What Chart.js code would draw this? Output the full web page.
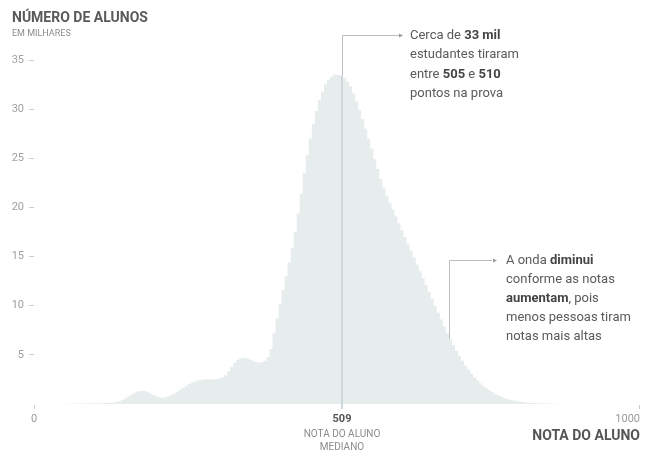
<!DOCTYPE html>
<html>
<head>
<meta charset="utf-8">
<script src="https://cdn.jsdelivr.net/npm/chart.js@4/dist/chart.umd.min.js"></script>
<style>
  body { margin: 0; background: #fff; }
  #wrap { width: 648px; height: 457px; position: relative; }
</style>
</head>
<body>
<div id="wrap"><canvas id="histChart"></canvas></div>
<script>
// bins of 5 points, 0 .. 995 (number of students, in thousands)
const binWidth = 5;
const counts = [
  0, 0, 0, 0, 0, 0, 0, 0, 0, 0,
  0.02, 0.02, 0.03, 0.03, 0.04, 0.04, 0.05, 0.05, 0.06, 0.06,
  0.07, 0.08, 0.09, 0.10, 0.11, 0.13, 0.16, 0.20, 0.28, 0.42,
  0.6, 0.8, 1.0, 1.15, 1.28, 1.35, 1.32, 1.2, 1.05, 0.9,
  0.76, 0.66, 0.62, 0.66, 0.76, 0.9, 1.05, 1.25, 1.45, 1.65,
  1.85, 2.05, 2.2, 2.3, 2.4, 2.45, 2.5, 2.5, 2.5, 2.5,
  2.52, 2.6, 2.72, 2.92, 3.3, 3.75, 4.2, 4.5, 4.65, 4.7,
  4.65, 4.5, 4.35, 4.25, 4.2, 4.25, 4.4, 4.8, 5.6, 7.2,
  8.7, 10.2, 11.6, 13.0, 14.4, 15.9, 17.5, 19.4, 21.4, 23.5,
  25.3, 27.0, 28.5, 29.8, 30.9, 31.8, 32.5, 33.0, 33.3, 33.5,
  33.5, 33.4, 33.2, 32.8, 32.3, 31.6, 30.8, 29.9, 29.0, 28.0,
  27.0, 26.0, 24.9, 23.9, 22.9, 22.0, 21.2, 20.5, 19.8, 19.1,
  18.4, 17.7, 17.0, 16.3, 15.6, 14.9, 14.2, 13.5, 12.8, 12.1,
  11.4, 10.7, 10.0, 9.3, 8.6, 7.9, 7.2, 6.6, 6.0, 5.4,
  4.9, 4.4, 3.9, 3.5, 3.1, 2.7, 2.4, 2.1, 1.8, 1.6,
  1.4, 1.2, 1.0, 0.85, 0.72, 0.6, 0.5, 0.42, 0.35, 0.29,
  0.24, 0.2, 0.16, 0.13, 0.11, 0.09, 0.07, 0.06, 0.05, 0.04,
  0.035, 0.03, 0.025, 0.02, 0.018, 0.015, 0.012, 0.01, 0.008, 0.006,
  0.005, 0.004, 0.003, 0.002, 0.001, 0, 0, 0, 0, 0,
  0, 0, 0, 0, 0, 0, 0, 0, 0, 0
];
const yTickValues = [5, 10, 15, 20, 25, 30, 35];
const xTickValues = [0, 509, 1000];
const medianScore = 509;
const peakBinIndex = 101; // 505-510

const FONT = 'Roboto, "Liberation Sans", sans-serif';

const points = counts.map((c, i) => ({ x: i * binWidth + binWidth / 2, y: c }));

function drawRich(ctx, parts, x, y) {
  let cx = x;
  parts.forEach(p => {
    ctx.font = (p[1] ? 'bold ' : '') + '13px ' + FONT;
    ctx.fillStyle = p[1] ? '#444' : '#5a5a5a';
    ctx.fillText(p[0], cx, y);
    cx += ctx.measureText(p[0]).width;
  });
}

function arrowHead(ctx, x, y) {
  ctx.beginPath();
  ctx.moveTo(x + 3, y);
  ctx.lineTo(x - 1, y - 2);
  ctx.lineTo(x - 1, y + 2);
  ctx.closePath();
  ctx.fill();
}

const decorPlugin = {
  id: 'decor',
  afterDatasetsDraw(chart) {
    const ctx = chart.ctx;
    const xs = chart.scales.x, ys = chart.scales.y;
    const base = chart.chartArea.bottom;
    ctx.save();

    // x axis tick marks
    ctx.strokeStyle = '#cccccc';
    ctx.lineWidth = 1;
    xTickValues.forEach(v => {
      const px = Math.round(xs.getPixelForValue(v)) + 0.5;
      ctx.beginPath();
      ctx.moveTo(px, base + 1);
      ctx.lineTo(px, base + 5);
      ctx.stroke();
    });

    // median line
    const mx = Math.round(xs.getPixelForValue(medianScore));
    const barTop = ys.getPixelForValue(counts[peakBinIndex]);
    const lineTop = Math.round(ys.getPixelForValue(37.5)) + 0.5;
    ctx.strokeStyle = '#cdd7d7';
    ctx.lineWidth = 2;
    ctx.beginPath();
    ctx.moveTo(mx, base + 5);
    ctx.lineTo(mx, barTop);
    ctx.stroke();
    ctx.strokeStyle = '#b9bdbd';
    ctx.lineWidth = 1;
    ctx.beginPath();
    ctx.moveTo(mx + 0.5, barTop);
    ctx.lineTo(mx + 0.5, lineTop);
    ctx.lineTo(399, lineTop);
    ctx.stroke();
    ctx.fillStyle = '#9a9a9a';
    arrowHead(ctx, 400, lineTop);

    // second annotation line
    const ax = Math.round(xs.getPixelForValue(686)) + 0.5;
    const ay1 = Math.round(ys.getPixelForValue(6.6));
    const ay2 = Math.round(ys.getPixelForValue(14.7)) + 0.5;
    ctx.strokeStyle = '#b9bdbd';
    ctx.beginPath();
    ctx.moveTo(ax, ay1);
    ctx.lineTo(ax, ay2);
    ctx.lineTo(492, ay2);
    ctx.stroke();
    arrowHead(ctx, 494, ay2);

    // annotation texts
    ctx.textAlign = 'left';
    ctx.textBaseline = 'middle';
    drawRich(ctx, [['Cerca de ', false], ['33 mil', true]], 410, lineTop);
    drawRich(ctx, [['estudantes tiraram', false]], 410, lineTop + 19.5);
    drawRich(ctx, [['entre ', false], ['505', true], [' e ', false], ['510', true]], 410, lineTop + 39);
    drawRich(ctx, [['pontos na prova', false]], 410, lineTop + 58.5);

    const l2 = [
      [['A onda ', false], ['diminui', true]],
      [['conforme as notas', false]],
      [['aumentam', true], [', pois', false]],
      [['menos pessoas tiram', false]],
      [['notas mais altas', false]]
    ];
    l2.forEach((parts, i) => drawRich(ctx, parts, 506, ay2 + i * 19));

    // titles
    ctx.fillStyle = '#595959';
    ctx.font = 'bold 14px ' + FONT;
    ctx.fillText('NÚMERO DE ALUNOS', 12, 18);
    ctx.fillStyle = '#8c8c8c';
    ctx.font = '9px ' + FONT;
    ctx.fillText('EM MILHARES', 12, 34);

    // x labels
    ctx.textAlign = 'center';
    ctx.font = '11px ' + FONT;
    ctx.fillStyle = '#9a9a9a';
    ctx.fillText('0', xs.getPixelForValue(0), base + 15);
    ctx.textAlign = 'right';
    ctx.fillText('1000', xs.getPixelForValue(1000) + 1, base + 15);
    ctx.textAlign = 'center';
    ctx.fillStyle = '#555';
    ctx.font = 'bold 11px ' + FONT;
    ctx.fillText(String(medianScore), mx, base + 15);
    ctx.fillStyle = '#8c8c8c';
    ctx.font = '10px ' + FONT;
    ctx.fillText('NOTA DO ALUNO', mx, base + 30);
    ctx.fillText('MEDIANO', mx, base + 43);
    ctx.textAlign = 'right';
    ctx.fillStyle = '#555';
    ctx.font = 'bold 14px ' + FONT;
    ctx.fillText('NOTA DO ALUNO', 640, base + 32);

    ctx.restore();
  }
};

const ctx = document.getElementById('histChart').getContext('2d');
const chart = new Chart(ctx, {
  type: 'bar',
  data: {
    datasets: [{
      data: points,
      backgroundColor: '#e7eded',
      borderWidth: 0,
      inflateAmount: 0,
      barThickness: 4
    }]
  },
  options: {
    responsive: true,
    maintainAspectRatio: false,
    animation: false,
    layout: { padding: { top: 60, right: 9, bottom: 53, left: 0 } },
    plugins: { legend: { display: false }, tooltip: { enabled: false } },
    scales: {
      x: {
        type: 'linear',
        min: 0,
        max: 1000,
        offset: false,
        display: false,
        grid: { offset: false }
      },
      y: {
        min: 0,
        max: 35,
        afterBuildTicks(scale) {
          scale.ticks = yTickValues.map(v => ({ value: v }));
        },
        afterFit(scale) { scale.width = 34; },
        border: { display: false },
        grid: {
          drawOnChartArea: false,
          drawTicks: true,
          tickLength: 5,
          tickColor: '#cccccc'
        },
        ticks: {
          padding: 5,
          color: '#a0a0a0',
          font: { family: FONT, size: 11 }
        }
      }
    }
  },
  plugins: [decorPlugin]
});
</script>
</body>
</html>
